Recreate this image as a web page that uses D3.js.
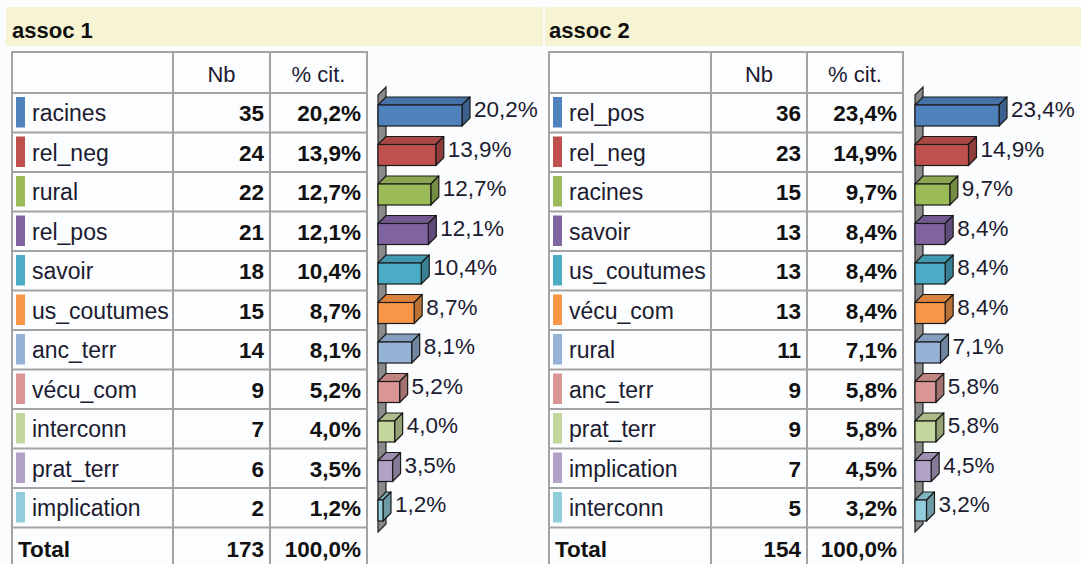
<!DOCTYPE html>
<html>
<head>
<meta charset="utf-8">
<script src="https://cdn.jsdelivr.net/npm/d3@7"></script>
<style>
  body { margin: 0; background: #fbfcfe; }
  svg { display: block; font-family: "Liberation Sans", Arial, sans-serif; }
</style>
</head>
<body>
<svg id="chart" width="1081" height="564"></svg>
<script>
// data
const titles = ["assoc 1", "assoc 2"]
const labels1 = ["racines", "rel_neg", "rural", "rel_pos", "savoir", "us_coutumes", "anc_terr", "vécu_com", "interconn", "prat_terr", "implication"]
const nb1 = [35, 24, 22, 21, 18, 15, 14, 9, 7, 6, 2]
const pct1 = [20.2, 13.9, 12.7, 12.1, 10.4, 8.7, 8.1, 5.2, 4.0, 3.5, 1.2]
const labels2 = ["rel_pos", "rel_neg", "racines", "savoir", "us_coutumes", "vécu_com", "rural", "anc_terr", "prat_terr", "implication", "interconn"]
const nb2 = [36, 23, 15, 13, 13, 13, 11, 9, 9, 7, 5]
const pct2 = [23.4, 14.9, 9.7, 8.4, 8.4, 8.4, 7.1, 5.8, 5.8, 4.5, 3.2]
const totals = [173, 154]
const headers = ["Nb", "% cit."]
const palette = ["#4f81bd", "#c0504d", "#9bbb59", "#8064a2", "#4bacc6", "#f79646",
                 "#95b3d7", "#d99694", "#c3d69b", "#b2a2c7", "#92cddc"]

const svg = d3.select("#chart")
const fmt = v => v.toFixed(1).replace(".", ",") + "%"
const textColor = "#1c1b30"
const lineColor = "#a3a3a3"

const panels = [
    {title: titles[0], labels: labels1, nb: nb1, pct: pct1, total: totals[0],
     bandX: 6, bandW: 537, tx: 12, cols: [12, 173, 270, 367], wallX: 378},
    {title: titles[1], labels: labels2, nb: nb2, pct: pct2, total: totals[1],
     bandX: 545, bandW: 536, tx: 549, cols: [549, 711, 807, 903], wallX: 915}
]

const headTop = 52, headBottom = 93, rowH = 39.5
const depth = 8

function drawPanel(p) {
    let g = svg.append("g")
    let n = p.labels.length

    let y = d3.scaleBand().domain(d3.range(n)).range([headBottom, headBottom + n * rowH]).paddingInner(0)

    // title band
    g.append("rect").attr("x", p.bandX).attr("y", 7).attr("width", p.bandW).attr("height", 39).attr("fill", "#f7f4d3")
    g.append("text").attr("x", p.tx).attr("y", 38).attr("font-size", 22).attr("font-weight", "bold")
        .attr("fill", "#111").text(p.title)

    // table
    let c = p.cols
    let bottom = headBottom + (n + 1) * rowH
    g.append("rect").attr("x", c[0]).attr("y", headTop).attr("width", c[3] - c[0]).attr("height", bottom - headTop)
        .attr("fill", "#fcfdff").attr("stroke", lineColor).attr("stroke-width", 2)
    g.selectAll(".vline").data([c[1], c[2]]).join("line")
        .attr("x1", d => d).attr("x2", d => d).attr("y1", headTop).attr("y2", bottom)
        .attr("stroke", lineColor).attr("stroke-width", 2)
    g.selectAll(".hline").data(d3.range(n + 1)).join("line")
        .attr("x1", c[0]).attr("x2", c[3])
        .attr("y1", d => headBottom + d * rowH).attr("y2", d => headBottom + d * rowH)
        .attr("stroke", lineColor).attr("stroke-width", 2)

    g.selectAll(".head").data(headers).join("text")
        .attr("x", (d, i) => (c[i + 1] + c[i + 2]) / 2).attr("y", 82)
        .attr("text-anchor", "middle").attr("font-size", 22).attr("fill", textColor).text(d => d)

    // rows
    let rows = g.selectAll(".row").data(p.labels).join("g")
        .attr("transform", (d, i) => `translate(0, ${y(i)})`)
    rows.append("rect").attr("x", c[0] + 4).attr("y", 4).attr("width", 9).attr("height", rowH - 9)
        .attr("fill", (d, i) => palette[i])
    rows.append("text").attr("x", c[0] + 20).attr("y", 28).attr("font-size", 23).attr("fill", textColor).text(d => d)
    rows.append("text").attr("x", c[2] - 6).attr("y", 28).attr("text-anchor", "end")
        .attr("font-size", 22.5).attr("font-weight", "bold").attr("fill", "#111").text((d, i) => p.nb[i])
    rows.append("text").attr("x", c[3] - 6).attr("y", 28).attr("text-anchor", "end")
        .attr("font-size", 22.5).attr("font-weight", "bold").attr("fill", "#111").text((d, i) => fmt(p.pct[i]))

    let tot = g.append("g").attr("transform", `translate(0, ${headBottom + n * rowH})`)
    tot.append("text").attr("x", c[0] + 6).attr("y", 29).attr("font-size", 22.5).attr("font-weight", "bold").attr("fill", "#111").text("Total")
    tot.append("text").attr("x", c[2] - 6).attr("y", 29).attr("text-anchor", "end").attr("font-size", 22.5)
        .attr("font-weight", "bold").attr("fill", "#111").text(p.total)
    tot.append("text").attr("x", c[3] - 6).attr("y", 29).attr("text-anchor", "end").attr("font-size", 22.5)
        .attr("font-weight", "bold").attr("fill", "#111").text("100,0%")

    // 3d bars
    let x = d3.scaleLinear().domain([0, d3.max(p.pct)]).range([p.wallX, p.wallX + 84])
    let x0 = x(0)
    let wallTop = 87, wallBottom = 524
    g.append("path")
        .attr("d", `M${x0},${wallTop + depth}L${x0 + depth},${wallTop}L${x0 + depth},${wallBottom}L${x0},${wallBottom + depth}Z`)
        .attr("fill", "#8a8a8a").attr("stroke", "#222").attr("stroke-width", 1.2)

    let bars = g.selectAll(".bar").data(p.pct).join("g")
        .attr("transform", (d, i) => `translate(0, ${y(i) + 12})`)
    let bh = 21
    // top face
    bars.append("path")
        .attr("d", d => `M${x0},0L${x0 + depth},${-depth}L${x(d) + depth},${-depth}L${x(d)},0Z`)
        .attr("fill", (d, i) => d3.color(palette[i]).darker(0.35))
        .attr("stroke", "#1a1a1a").attr("stroke-width", 1.2).attr("stroke-linejoin", "round")
    // side face
    bars.append("path")
        .attr("d", d => `M${x(d)},0L${x(d) + depth},${-depth}L${x(d) + depth},${bh - depth}L${x(d)},${bh}Z`)
        .attr("fill", (d, i) => d3.color(palette[i]).darker(0.8))
        .attr("stroke", "#1a1a1a").attr("stroke-width", 1.2).attr("stroke-linejoin", "round")
    // front face
    bars.append("rect").attr("x", x0).attr("y", 0).attr("width", d => x(d) - x0).attr("height", bh)
        .attr("fill", (d, i) => palette[i]).attr("stroke", "#1a1a1a").attr("stroke-width", 1.2)
    bars.append("text").attr("x", d => x(d) + depth + 4).attr("y", 12)
        .attr("font-size", 22.5).attr("fill", textColor).text(d => fmt(d))
}

panels.forEach(drawPanel)
</script>
</body>
</html>
